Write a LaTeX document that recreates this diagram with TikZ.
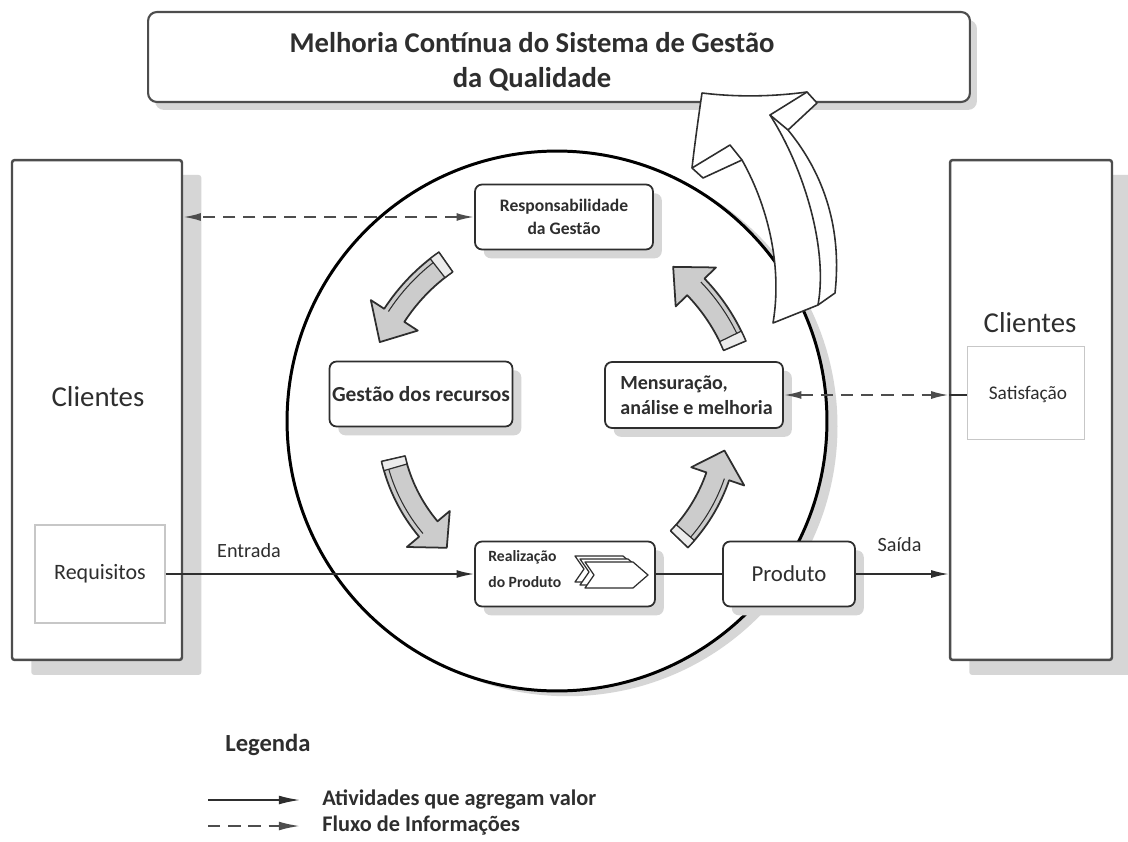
\documentclass[tikz,border=0pt]{standalone}
\usepackage{fontspec}
\setmainfont{Carlito}
\usetikzlibrary{arrows.meta,calc,shadows}

\definecolor{ink}{gray}{0.18}
\definecolor{shadowgray}{gray}{0.84}
\definecolor{bandgray}{gray}{0.80}
\definecolor{softframe}{gray}{0.78}

\tikzset{
  >={Latex[length=10pt,width=4.5pt]},
  procbox/.style={draw=ink, line width=1pt, rounded corners=4pt, fill=white, inner sep=0pt,
    drop shadow={shadow xshift=5pt, shadow yshift=-5pt, fill=shadowgray, opacity=1}},
  clientbox/.style={draw=ink!85, line width=1.4pt, rounded corners=1.5pt, fill=white, inner sep=0pt,
    drop shadow={shadow xshift=11pt, shadow yshift=-8.5pt, fill=shadowgray, opacity=1}},
  softbox/.style={draw=softframe, line width=0.8pt, fill=white, inner sep=0pt},
  txt/.style={text=ink, inner sep=0pt},
  flow/.style={draw=ink, line width=0.9pt, ->},
  info/.style={draw=ink!85, line width=1.1pt, dash pattern=on 7pt off 4.5pt},
  cycarrow/.style={draw=ink, line width=1pt, fill=bandgray, line join=round},
  bigarrow/.style={draw=ink, line width=0.9pt, fill=white, line join=round},
}

% curved block arrow round the cycle centre: start angle, end angle, mid radius
\newcommand\cyclearrow[3]{%
  \pgfmathsetmacro\ra{#3+12}\pgfmathsetmacro\rb{#3-12}%
  \pgfmathsetmacro\ha{#3+28}\pgfmathsetmacro\hb{#3-28}%
  \pgfmathsetmacro\hm{#2-9}\pgfmathsetmacro\rl{#3+7}%
  \pgfmathsetmacro\tl{#1+3}%
  \draw[cycarrow] (#1:\ra) arc[start angle=#1, end angle=\hm, radius=\ra]
    -- (\hm:\ha) -- (#2:#3) -- (\hm:\hb) -- (\hm:\rb)
    arc[start angle=\hm, end angle=#1, radius=\rb] -- cycle;
  \fill[gray!15] (#1:\ra) arc[start angle=#1, end angle=\tl, radius=\ra]
    -- (\tl:\rb) arc[start angle=\tl, end angle=#1, radius=\rb] -- cycle;
  \draw[ink, line width=0.7pt] (#1:\ra) arc[start angle=#1, end angle=\tl, radius=\ra]
    -- (\tl:\rb) arc[start angle=\tl, end angle=#1, radius=\rb] -- cycle;
  \draw[ink, line width=0.6pt] (\tl:\rl) arc[start angle=\tl, end angle=\hm, radius=\rl];
}

\begin{document}
\begin{tikzpicture}[x=0.02cm, y=0.02cm]
\useasboundingbox (0,0) rectangle (1128,-841);
\fill[white] (0,0) rectangle (1128,-841);

% the process cycle
\node[circle, draw=black, line width=1.7pt, fill=white, minimum size=10.8cm, inner sep=0pt,
  drop shadow={shadow xshift=6pt, shadow yshift=-3pt, fill=shadowgray, opacity=1}] (ring) at (557,-421) {};

\begin{scope}[shift={(ring.center)}]
  \cyclearrow{125}{156}{194}
  \cyclearrow{193}{229}{168}
  \cyclearrow{316}{350}{170}
  \cyclearrow{23}{53}{193}
\end{scope}

% customers
\node[clientbox, minimum width=3.4cm, minimum height=10cm] (cl) at (97,-410) {};
\node[txt, font=\fontsize{16.4}{19}\selectfont] (cltxt) at (98,-397) {Clientes};
\node[softbox, minimum width=2.6cm, minimum height=1.96cm] (req) at (100,-574) {};
\node[txt, font=\fontsize{12.5}{15}\selectfont] at (req.center) {Requisitos};

\node[clientbox, minimum width=3.24cm, minimum height=10cm] (cr) at (1031,-410) {};
\node[txt, font=\fontsize{16.4}{19}\selectfont] (crtxt) at (1030,-323) {Clientes};
\node[softbox, minimum width=2.34cm, minimum height=1.86cm] (sat) at (1026,-393) {};
\node[txt, font=\fontsize{11}{13}\selectfont] at (1028,-394) {Satisfação};

% processes
\node[procbox, minimum width=3.56cm, minimum height=1.3cm] (resp) at (564,-217) {};
\node[txt, font=\bfseries\fontsize{10}{13}\selectfont, align=center] at (resp.center) {Responsabilidade\\da Gestão};

\node[procbox, minimum width=3.66cm, minimum height=1.3cm] (rec) at (421,-394) {};
\node[txt, font=\bfseries\fontsize{12.2}{14}\selectfont] at (rec.center) {Gestão dos recursos};

\node[procbox, minimum width=3.56cm, minimum height=1.32cm] (mens) at (694,-395) {};
\node[txt, font=\bfseries\fontsize{11.4}{14.5}\selectfont, align=left, anchor=west] at (620,-395) {Mensuração,\\análise e melhoria};

\node[procbox, minimum width=3.6cm, minimum height=1.3cm] (real) at (565,-574) {};
\node[txt, font=\bfseries\fontsize{8.9}{14.5}\selectfont, align=left, anchor=west] at (488,-569) {Realização\\do Produto};
\begin{scope}[shift={(real.center)}]
  \foreach \dx/\dy in {-10/6, -5/3, 0/0} {
    \begin{scope}[shift={(\dx,\dy)}]
      \draw[ink, line width=0.7pt, fill=white, line join=round]
        (20,12) -- (68,12) -- (83,-1) -- (68,-14) -- (20,-14) -- (29,-1) -- cycle;
    \end{scope}
  }
\end{scope}

\node[procbox, minimum width=2.64cm, minimum height=1.3cm] (prod) at (789,-574) {};
\node[txt, font=\fontsize{13}{15}\selectfont] at (prod.center) {Produto};

% value-adding flow
\draw[flow] (req.east) -- node[txt, above=9pt, pos=0.27, font=\fontsize{11.5}{13}\selectfont] {Entrada} (real.west);
\draw[draw=ink, line width=0.9pt] (real.east) -- (prod.west);
\draw[flow] (prod.east) -- node[txt, above=12pt, pos=0.47, font=\fontsize{11.5}{13}\selectfont] {Saída} (cr.west |- prod.east);

% information flow
\draw[info, <->] (resp.west) -- (cl.east |- resp.west);
\draw[info, <->] (mens.east) -- (cr.west |- mens.east);
\draw[draw=ink, line width=1pt] (cr.west |- mens.east) -- (sat.west |- mens.east);

% continual improvement
\node[draw=ink!85, line width=1.2pt, rounded corners=5pt, fill=white, minimum width=16.44cm, minimum height=1.8cm,
  drop shadow={shadow xshift=4pt, shadow yshift=-4.5pt, fill=shadowgray, opacity=1}] (top) at (559,-57) {};
\node[txt, font=\bfseries\fontsize{16.3}{20}\selectfont, align=center] at (532,-62) {Melhoria Contínua do Sistema de Gestão\\da Qualidade};

\draw[bigarrow] (702,-93)
  .. controls (698,-120) and (694,-150) .. (692,-168)
  -- (703,-178) -- (742,-160)
  .. controls (770,-210) and (782,-270) .. (773,-323)
  -- (818,-305) -- (835,-293)
  .. controls (842,-230) and (825,-175) .. (788,-130)
  -- (817,-103) -- (807,-92)
  .. controls (770,-97) and (735,-97) .. cycle;
\draw[ink, line width=0.9pt, line join=round] (692,-168) -- (730,-145) -- (742,-160);
\draw[ink, line width=0.9pt, line join=round] (788,-130) -- (770,-115) -- (807,-92);
\draw[ink, line width=0.9pt] (770,-115) .. controls (805,-170) and (828,-250) .. (818,-305);

% legend
\node[txt, font=\bfseries\fontsize{14}{16}\selectfont, anchor=west] (leg) at (225,-745) {Legenda};
\coordinate (s1) at (208,-800); \coordinate (e1) at (300,-800);
\coordinate (s2) at (208,-826); \coordinate (e2) at (300,-826);
\draw[flow, -{Latex[length=12pt,width=5pt]}] (s1) -- (e1);
\draw[info, -{Latex[length=12pt,width=5pt]}] (s2) -- (e2);
\node[txt, font=\bfseries\fontsize{12.7}{15}\selectfont, anchor=west] at (322,-800) {Atividades que agregam valor};
\node[txt, font=\bfseries\fontsize{12.7}{15}\selectfont, anchor=west] at (322,-826) {Fluxo de Informações};
\end{tikzpicture}
\end{document}
